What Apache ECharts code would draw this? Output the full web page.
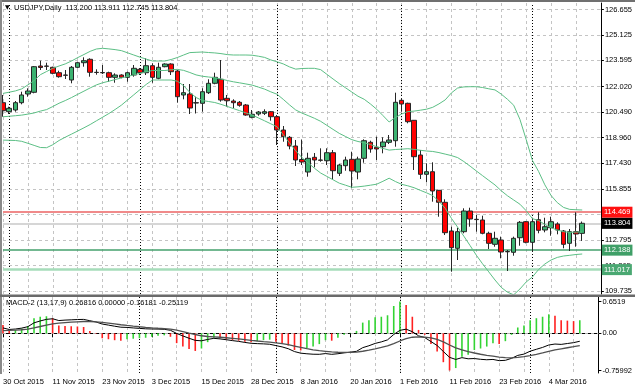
<!DOCTYPE html>
<html><head><meta charset="utf-8">
<script src="https://cdn.jsdelivr.net/npm/echarts@6/dist/echarts.min.js"></script>
<style>html,body{margin:0;padding:0;background:#fff}#c{width:635px;height:391px}</style>
</head><body><div id="c"></div>
<script>
const symbolName = 'USDJPY';
const timeframe = 'Daily';
const dates = ['30 Oct 2015',
'2 Nov 2015','3 Nov 2015','4 Nov 2015','5 Nov 2015','6 Nov 2015','9 Nov 2015','10 Nov 2015','11 Nov 2015','12 Nov 2015','13 Nov 2015','16 Nov 2015','17 Nov 2015','18 Nov 2015','19 Nov 2015','20 Nov 2015','23 Nov 2015','24 Nov 2015','25 Nov 2015','26 Nov 2015','27 Nov 2015','30 Nov 2015',
'1 Dec 2015','2 Dec 2015','3 Dec 2015','4 Dec 2015','7 Dec 2015','8 Dec 2015','9 Dec 2015','10 Dec 2015','11 Dec 2015','14 Dec 2015','15 Dec 2015','16 Dec 2015','17 Dec 2015','18 Dec 2015','21 Dec 2015','22 Dec 2015','23 Dec 2015','24 Dec 2015','28 Dec 2015','29 Dec 2015','30 Dec 2015','31 Dec 2015',
'4 Jan 2016','5 Jan 2016','6 Jan 2016','7 Jan 2016','8 Jan 2016','11 Jan 2016','12 Jan 2016','13 Jan 2016','14 Jan 2016','15 Jan 2016','18 Jan 2016','19 Jan 2016','20 Jan 2016','21 Jan 2016','22 Jan 2016','25 Jan 2016','26 Jan 2016','27 Jan 2016','28 Jan 2016','29 Jan 2016',
'1 Feb 2016','2 Feb 2016','3 Feb 2016','4 Feb 2016','5 Feb 2016','8 Feb 2016','9 Feb 2016','10 Feb 2016','11 Feb 2016','12 Feb 2016','15 Feb 2016','16 Feb 2016','17 Feb 2016','18 Feb 2016','19 Feb 2016','22 Feb 2016','23 Feb 2016','24 Feb 2016','25 Feb 2016','26 Feb 2016','29 Feb 2016',
'1 Mar 2016','2 Mar 2016','3 Mar 2016','4 Mar 2016','7 Mar 2016','8 Mar 2016','9 Mar 2016','10 Mar 2016','11 Mar 2016'];
const chartShiftSlots = [' ', '  ', '   '];

const opens = [
121.053,120.512,120.614,121.053,121.576,121.678,123.259,123.259,123.181,122.856,
122.718,122.417,123.181,123.457,123.662,122.880,122.868,122.856,122.579,122.718,
122.579,122.718,123.060,122.856,123.277,122.519,123.217,123.379,122.958,121.516,
121.576,121.053,121.017,121.654,122.219,122.459,121.317,121.155,121.077,120.914,
120.175,120.373,120.415,120.512,120.211,119.412,118.973,118.450,117.638,116.887,
117.771,117.608,117.566,118.047,116.809,117.266,117.650,116.887,117.711,118.672,
118.372,118.408,118.672,118.769,121.197,121.017,119.995,117.909,116.749,116.905,
115.787,115.066,113.341,112.301,113.299,114.543,114.044,114.003,113.202,112.541,
112.799,112.108,112.060,112.938,113.900,112.661,114.020,113.401,113.539,113.761,
113.341,112.601,113.299,113.200];
const closes = [
120.572,120.716,121.053,121.516,121.756,123.217,123.169,123.241,122.820,122.616,
122.700,123.181,123.457,123.577,122.880,122.868,122.850,122.579,122.718,122.579,
122.856,123.121,122.856,123.277,122.579,123.181,123.379,122.916,121.413,121.654,
120.734,121.035,121.714,122.219,122.579,121.215,121.173,121.053,120.897,120.313,
120.355,120.494,120.512,120.211,119.412,119.009,118.450,117.608,117.488,117.711,
117.608,117.590,118.047,116.965,117.308,117.608,116.947,117.668,118.769,118.270,
118.270,118.690,118.811,121.077,120.975,119.911,117.807,116.749,116.905,115.745,
115.066,113.239,112.337,113.299,114.543,114.062,114.026,113.202,112.601,112.902,
112.078,112.090,112.902,113.864,112.661,113.900,113.383,113.599,113.900,113.401,
112.541,113.299,113.160,113.804];
const lows = [
120.211,120.373,120.512,120.957,121.413,121.618,123.018,123.018,122.760,122.555,
122.477,122.219,123.121,123.217,122.616,122.736,122.778,122.315,122.255,122.519,
122.315,122.616,122.718,122.718,122.255,122.459,123.181,122.718,121.053,121.257,
120.373,120.404,120.512,121.576,122.159,121.113,120.812,120.716,120.812,120.271,
120.115,120.271,120.313,119.971,118.510,118.708,118.252,117.248,117.308,116.605,
117.170,117.506,117.308,116.448,116.647,116.965,115.907,116.448,117.446,118.047,
117.608,118.011,118.570,118.408,120.512,119.814,117.009,116.466,116.268,115.102,
114.200,113.101,110.894,111.597,113.202,113.599,113.299,113.142,112.259,112.397,
111.699,110.936,111.856,112.457,112.601,112.096,113.202,113.262,113.058,113.142,
112.301,112.138,112.397,112.745];
const highs = [
121.516,120.812,121.155,121.714,121.918,123.259,123.577,123.457,123.217,122.976,
123.018,123.259,123.517,123.782,123.722,123.060,123.319,122.916,122.820,122.760,
122.916,123.319,123.139,123.722,123.421,123.457,123.421,123.421,123.018,122.177,
122.177,121.413,121.918,122.459,122.856,123.619,121.516,121.257,121.155,120.975,
120.614,120.554,120.656,120.554,120.313,119.652,119.051,118.811,118.841,118.047,
118.029,118.312,118.312,118.209,117.368,117.807,118.107,117.807,118.853,118.769,
119.009,118.973,119.111,121.654,121.335,121.053,120.013,118.209,117.410,117.470,
115.805,115.246,113.599,113.539,114.705,114.741,114.302,114.261,113.299,113.299,
113.000,112.199,113.000,113.942,113.942,114.140,114.464,114.140,114.200,113.864,
113.401,113.461,114.464,113.911];

const bbUpper = [
121.612,121.684,121.762,121.882,122.123,122.387,122.736,122.928,123.120,123.259,
123.385,123.559,123.764,123.950,124.142,124.281,124.323,124.287,124.244,124.184,
124.052,123.920,123.788,123.673,123.559,123.559,123.559,123.649,123.770,123.920,
124.064,124.082,124.100,124.070,124.046,124.004,123.944,123.920,123.920,123.920,
123.908,123.848,123.776,123.625,123.511,123.385,123.205,123.072,123.108,123.120,
123.120,123.042,122.760,122.477,122.201,121.948,121.696,121.443,121.257,120.975,
120.662,120.283,119.893,120.163,120.373,120.518,120.548,120.602,120.662,120.776,
120.981,121.221,121.642,121.936,122.002,122.014,122.014,121.966,121.888,121.822,
121.570,121.257,120.902,120.049,118.847,117.590,116.917,116.118,115.474,115.048,
114.759,114.639,114.621,114.603];
const bbMiddle = [
120.208,120.238,120.271,120.307,120.367,120.437,120.548,120.638,120.824,121.020,
121.182,121.362,121.558,121.747,121.942,122.123,122.252,122.345,122.444,122.543,
122.634,122.724,122.814,122.913,122.988,122.988,122.988,123.033,123.057,122.997,
122.868,122.724,122.643,122.598,122.555,122.480,122.387,122.309,122.246,122.180,
122.111,121.993,121.870,121.705,121.561,121.254,120.923,120.617,120.431,120.277,
120.118,119.935,119.691,119.448,119.207,119.021,118.832,118.720,118.648,118.534,
118.408,118.306,118.203,118.240,118.261,118.288,118.246,118.194,118.149,118.122,
118.053,117.963,117.873,117.753,117.515,117.239,116.950,116.668,116.385,116.109,
115.760,115.459,115.204,114.951,114.561,114.083,113.972,113.737,113.536,113.401,
113.298,113.259,113.274,113.280];
const bbLower = [
118.805,118.793,118.781,118.732,118.612,118.486,118.360,118.348,118.528,118.781,
118.979,119.165,119.352,119.544,119.742,119.965,120.181,120.403,120.644,120.902,
121.215,121.528,121.840,122.153,122.417,122.417,122.417,122.417,122.345,122.075,
121.672,121.365,121.185,121.125,121.065,120.956,120.830,120.698,120.572,120.440,
120.313,120.139,119.965,119.784,119.610,119.123,118.642,118.161,117.753,117.434,
117.115,116.827,116.623,116.418,116.214,116.094,115.967,115.997,116.039,116.094,
116.154,116.328,116.514,116.316,116.148,116.058,115.943,115.787,115.637,115.468,
115.126,114.705,114.104,113.569,113.028,112.463,111.886,111.369,110.882,110.395,
109.950,109.662,109.506,109.854,110.275,110.575,111.026,111.357,111.597,111.754,
111.838,111.880,111.928,111.958];

const macdHist = [
0.17,0.06,0.07,0.10,0.15,0.31,0.34,0.35,0.31,0.16,
0.15,0.145,0.14,0.13,0.05,-0.01,-0.10,-0.12,-0.14,-0.15,
-0.12,-0.11,-0.10,-0.09,-0.07,-0.05,-0.04,-0.07,-0.20,-0.27,
-0.32,-0.36,-0.31,-0.18,-0.09,-0.10,-0.12,-0.14,-0.15,-0.17,
-0.18,-0.16,-0.14,-0.13,-0.17,-0.20,-0.25,-0.34,-0.35,-0.31,
-0.27,-0.22,-0.14,-0.15,-0.09,-0.03,0.01,0.05,0.22,0.27,
0.33,0.34,0.37,0.56,0.6519,0.58,0.34,0.07,-0.03,-0.22,
-0.37,-0.59,-0.75992,-0.71,-0.48,-0.44,-0.34,-0.31,-0.27,-0.20,
-0.22,-0.16,-0.03,0.12,0.16,0.27,0.31,0.34,0.39,0.36,
0.27,0.26,0.25,0.26816];
const macdHistUp = [
0,0,1,1,1,1,1,1,0,0,
0,0,0,0,0,0,0,0,0,0,
1,1,1,1,1,1,1,0,0,0,
0,0,1,1,1,0,0,0,0,0,
0,1,1,1,0,0,0,0,0,1,
1,1,1,0,1,1,1,1,1,1,
1,1,1,1,1,0,0,0,0,0,
0,0,0,1,1,1,1,1,1,1,
0,1,1,1,1,1,1,1,1,0,
0,0,0,1];
const macdLine = [
0.111,0.0795,0.0886,0.1069,0.1361,0.2152,0.2535,0.2861,0.2985,0.2618,
0.2710,0.2769,0.2825,0.2854,0.2585,0.2332,0.1904,0.1692,0.1463,0.1260,
0.1215,0.1111,0.1017,0.0930,0.0894,0.0873,0.0829,0.0626,-0.0020,-0.0523,
-0.1002,-0.1435,-0.1526,-0.1243,-0.1018,-0.1134,-0.1301,-0.1485,-0.1643,-0.1852,
-0.2035,-0.2101,-0.2152,-0.2226,-0.2502,-0.2769,-0.3143,-0.3726,-0.4052,-0.4176,
-0.4268,-0.4284,-0.4135,-0.4293,-0.4168,-0.3993,-0.3852,-0.3676,-0.2927,-0.2535,
-0.2060,-0.1744,-0.1336,-0.0235,0.0614,0.0857,0.0340,-0.0502,-0.0860,-0.1676,
-0.2484,-0.3710,-0.4909,-0.5335,-0.4968,-0.5202,-0.5151,-0.5309,-0.5401,-0.5335,
-0.5584,-0.5517,-0.5109,-0.4509,-0.4243,-0.3651,-0.3260,-0.2877,-0.2385,-0.2185,
-0.2260,-0.2076,-0.1902,-0.16181];
const macdSignal = [
0.0545,0.0595,0.0653,0.0736,0.0861,0.1119,0.1402,0.1694,0.1952,0.2085,
0.2210,0.2286,0.2358,0.2421,0.2418,0.2365,0.2237,0.2092,0.1930,0.1760,
0.1615,0.1478,0.1350,0.1230,0.1127,0.1040,0.0962,0.0859,0.0647,0.0377,
0.0065,-0.0235,-0.0493,-0.0643,-0.0718,-0.0801,-0.0901,-0.1018,-0.1143,-0.1285,
-0.1435,-0.1568,-0.1685,-0.1793,-0.1935,-0.2102,-0.2310,-0.2593,-0.2885,-0.3143,
-0.3368,-0.3551,-0.3668,-0.3793,-0.3868,-0.3893,-0.3885,-0.3843,-0.3660,-0.3435,
-0.3160,-0.2877,-0.2569,-0.2102,-0.1559,-0.1076,-0.0793,-0.0735,-0.0760,-0.0943,
-0.1251,-0.1743,-0.2376,-0.2968,-0.3368,-0.3735,-0.4018,-0.4276,-0.4501,-0.4668,
-0.4851,-0.4984,-0.5009,-0.4909,-0.4776,-0.4551,-0.4293,-0.4010,-0.3685,-0.3385,
-0.3160,-0.2943,-0.2735,-0.25119];

const priceTicks = [126.655,125.125,123.595,122.020,120.490,118.960,117.430,115.855,114.325,112.795,111.265,109.735];
const macdTicks = [0.6519, 0, -0.75992];
const macdTickLabels = ['0.6519', '0.00', '-0.75992'];
const priceLevels = [114.469, 113.804, 112.188, 111.017];
const separatorDates = ['2 Nov 2015','1 Dec 2015','4 Jan 2016','1 Feb 2016','1 Mar 2016'];

// ---------- styling / build ----------
const FONT = 'Liberation Sans';
const FS = 7.5;
const levelStyles = [
  {line: '#f08a8a', width: 2,   tag: '#ff1010'},
  {line: '#d6d6d6', width: 2,   tag: '#000000'},
  {line: '#45a06c', width: 1.5, tag: '#3f9f67'},
  {line: '#a6dcba', width: 2.5, tag: '#4aa872'}
];
const categories = dates.concat(chartShiftSlots);
const candleData = dates.map((d, i) => [opens[i], closes[i], lows[i], highs[i]]);
const n = dates.length - 1;
const headerText = symbolName + ',' + timeframe + '  ' + opens[n].toFixed(3) + ' ' + highs[n].toFixed(3) + ' ' + lows[n].toFixed(3) + ' ' + closes[n].toFixed(3);
const macdText = 'MACD-2 (13,17,9) ' + (macdHistUp[n] ? macdHist[n] : 0).toFixed(5) + ' ' + (macdHistUp[n] ? 0 : macdHist[n]).toFixed(5) + ' ' + macdLine[n].toFixed(5) + ' ' + macdSignal[n].toFixed(5);

const gridLine = {color: '#c4c4c4', width: 1, type: [3, 3]};
const sepLines = separatorDates.map(d => ({xAxis: d, lineStyle: {color: '#000', width: 1, type: [1, 2]}, label: {show: false}}));
const levelLines = priceLevels.map((v, k) => ({
  yAxis: v,
  lineStyle: {color: levelStyles[k].line, width: levelStyles[k].width, type: 'solid'},
  label: {show: true, position: 'end', distance: 1, formatter: v.toFixed(3), color: '#fff',
    backgroundColor: levelStyles[k].tag, padding: [2, 2, 1, 2], fontSize: FS, fontFamily: FONT}
}));

const chart = echarts.init(document.getElementById('c'), null, {renderer: 'canvas'});
chart.setOption({
  animation: false,
  backgroundColor: '#fff',
  textStyle: {fontFamily: FONT},
  grid: [
    {left: 3, right: 33, top: 3, height: 291},
    {left: 3, right: 33, top: 297, height: 76}
  ],
  xAxis: [
    {type: 'category', gridIndex: 0, data: categories, boundaryGap: false,
      axisLine: {show: false}, axisTick: {show: false}, axisLabel: {show: false},
      splitLine: {show: true, interval: 3, lineStyle: gridLine}},
    {type: 'category', gridIndex: 1, data: categories, boundaryGap: false,
      axisLine: {show: true, lineStyle: {color: '#000', width: 1}},
      axisTick: {show: true, interval: 7, length: 4, lineStyle: {color: '#000'}},
      axisLabel: {show: true, interval: 7, align: 'left', margin: 5, fontSize: FS, color: '#000', fontFamily: FONT},
      splitLine: {show: true, interval: 3, lineStyle: gridLine}}
  ],
  yAxis: [
    {type: 'value', gridIndex: 0, position: 'right', min: 109.554, max: 127.046, scale: true,
      axisLine: {show: true, lineStyle: {color: '#000', width: 1}},
      axisTick: {show: true, length: 3, customValues: priceTicks, lineStyle: {color: '#000'}},
      axisLabel: {show: true, customValues: priceTicks, formatter: v => v.toFixed(3), margin: 4,
        fontSize: FS, color: '#000', fontFamily: FONT},
      splitLine: {show: true, lineStyle: gridLine}},
    {type: 'value', gridIndex: 1, position: 'right', min: -0.811, max: 0.7437,
      axisLine: {show: true, lineStyle: {color: '#000', width: 1}},
      axisTick: {show: true, length: 3, customValues: macdTicks, lineStyle: {color: '#000'}},
      axisLabel: {show: true, customValues: macdTicks, margin: 4, fontSize: FS, color: '#000', fontFamily: FONT,
        formatter: v => { const k = macdTicks.findIndex(t => Math.abs(t - v) < 1e-6); return k >= 0 ? macdTickLabels[k] : ''; }},
      splitLine: {show: false}}
  ],
  series: [
    {type: 'candlestick', xAxisIndex: 0, yAxisIndex: 0, data: candleData, barWidth: 5, z: 3,
      itemStyle: {color: '#3cb371', color0: '#ff0000', borderColor: '#262626', borderColor0: '#262626', borderWidth: 1},
      emphasis: {disabled: true},
      markLine: {silent: true, symbol: 'none', animation: false, z: 2, data: sepLines.concat(levelLines)}},
    {type: 'line', name: 'BB upper', xAxisIndex: 0, yAxisIndex: 0, data: bbUpper, showSymbol: false, z: 4,
      lineStyle: {color: '#5cbf85', width: 1}, emphasis: {disabled: true}},
    {type: 'line', name: 'BB middle', xAxisIndex: 0, yAxisIndex: 0, data: bbMiddle, showSymbol: false, z: 4,
      lineStyle: {color: '#5cbf85', width: 1}, emphasis: {disabled: true}},
    {type: 'line', name: 'BB lower', xAxisIndex: 0, yAxisIndex: 0, data: bbLower, showSymbol: false, z: 4,
      lineStyle: {color: '#5cbf85', width: 1}, emphasis: {disabled: true}},
    {type: 'bar', name: 'hist', xAxisIndex: 1, yAxisIndex: 1, data: macdHist, barWidth: 1.6, z: 3,
      itemStyle: {color: p => macdHistUp[p.dataIndex] ? '#33d433' : '#ff2020'},
      emphasis: {disabled: true},
      markLine: {silent: true, symbol: 'none', animation: false, z: 2,
        data: [{yAxis: 0, lineStyle: {color: '#b4b4b4', width: 1, type: [3, 3]}, label: {show: false}}].concat(sepLines)}},
    {type: 'line', name: 'MACD', xAxisIndex: 1, yAxisIndex: 1, data: macdLine, showSymbol: false, z: 4,
      lineStyle: {color: '#000', width: 1}, emphasis: {disabled: true}},
    {type: 'line', name: 'Signal', xAxisIndex: 1, yAxisIndex: 1, data: macdSignal, showSymbol: false, z: 4,
      lineStyle: {color: '#505050', width: 1.3}, emphasis: {disabled: true}}
  ],
  graphic: [
    {type: 'rect', left: 0, top: 0, shape: {width: 635, height: 2}, style: {fill: '#707070'}, silent: true, z: 10},
    {type: 'rect', left: 0, top: 0, shape: {width: 2, height: 374}, style: {fill: '#8a8a8a'}, silent: true, z: 10},
    {type: 'rect', left: 0, top: 294.5, shape: {width: 635, height: 2.5}, style: {fill: '#6a6a6a'}, silent: true, z: 10},
    {type: 'text', left: 5, top: 4, style: {text: '\u25BC', fontSize: 6, fill: '#000', fontFamily: 'DejaVu Sans'}, silent: true, z: 10},
    {type: 'text', left: 14, top: 4, style: {text: headerText, fontSize: FS, fill: '#000', fontFamily: FONT}, silent: true, z: 10},
    {type: 'text', left: 6, top: 299, style: {text: macdText, fontSize: FS, fill: '#000', fontFamily: FONT}, silent: true, z: 10}
  ]
});
</script>
</body></html>
